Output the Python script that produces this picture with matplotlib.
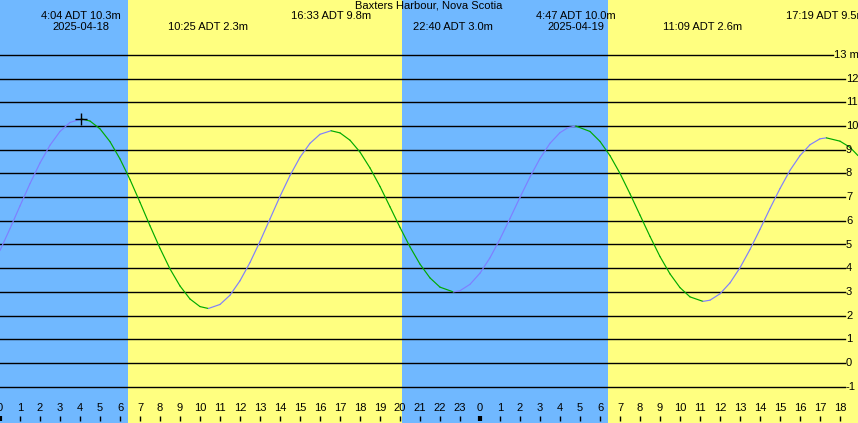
import matplotlib.pyplot as plt
from matplotlib.transforms import blended_transform_factory

# hours since 2025-04-18 00:00 ADT and tide height (m)
tide_t = [0, 0.5, 1, 1.5, 2, 2.5, 3, 3.5, 4.067, 4.5, 5, 5.5, 6, 6.5, 7, 7.5, 8, 8.5,
          9, 9.5, 10, 10.417, 11, 11.5, 12, 12.5, 13, 13.5, 14, 14.5, 15, 15.5, 16,
          16.55, 17, 17.5, 18, 18.5, 19, 19.5, 20, 20.5, 21, 21.5, 22, 22.667, 23,
          23.5, 24, 24.5, 25, 25.5, 26, 26.5, 27, 27.5, 28, 28.4, 28.783, 29.5, 30,
          30.5, 31, 31.5, 32, 32.5, 33, 33.5, 34, 34.5, 35.15, 35.5, 36, 36.5, 37,
          37.5, 38, 38.5, 39, 39.5, 40, 40.5, 41, 41.317, 42, 42.5, 42.9]
tide_h = [4.75, 5.67, 6.63, 7.57, 8.44, 9.19, 9.77, 10.15, 10.3, 10.21, 9.88, 9.34,
          8.61, 7.74, 6.78, 5.79, 4.84, 3.97, 3.25, 2.7, 2.38, 2.3, 2.47, 2.86, 3.47,
          4.24, 5.13, 6.08, 7.03, 7.91, 8.68, 9.27, 9.65, 9.8, 9.71, 9.4, 8.9, 8.23,
          7.45, 6.59, 5.72, 4.9, 4.17, 3.59, 3.2, 3.0, 3.05, 3.32, 3.79, 4.44, 5.23,
          6.1, 6.99, 7.85, 8.63, 9.27, 9.72, 9.93, 10.0, 9.77, 9.35, 8.75, 8.0, 7.14,
          6.24, 5.34, 4.49, 3.76, 3.18, 2.79, 2.6, 2.65, 2.92, 3.38, 4.02, 4.79, 5.64,
          6.52, 7.36, 8.13, 8.75, 9.21, 9.46, 9.5, 9.36, 9.1, 8.75]

# high / low events
event_t = [4.067, 10.417, 16.55, 22.667, 28.783, 35.15, 41.317]
event_label = ["4:04 ADT 10.3m", "10:25 ADT 2.3m", "16:33 ADT 9.8m", "22:40 ADT 3.0m",
               "4:47 ADT 10.0m", "11:09 ADT 2.6m", "17:19 ADT 9.5m"]
event_high = [True, False, True, False, True, False, True]
event_date = ["2025-04-18", "", "", "", "2025-04-19", "", ""]

night = [(0, 6.4), (20.1, 30.4)]
levels = list(range(-1, 14))
station = "Baxters Harbour, Nova Scotia"

W, H = 858, 423
PX_HOUR = 20.0
Y0, PX_M = 363.0, 23.7


def py(v):
    # pixel row -> metres
    return (Y0 - v) / PX_M


fig = plt.figure(figsize=(W / 100, H / 100), dpi=100)
ax = fig.add_axes([0, 0, 1, 1])
ax.set_xlim(0, W / PX_HOUR)
ax.set_ylim(py(H), py(0))
ax.axis("off")
plt.rcParams["font.family"] = ["Liberation Sans", "DejaVu Sans"]

ax.axvspan(0, W / PX_HOUR, color="#ffff80", zorder=0)
for a, b in night:
    ax.axvspan(a, b, color="#70b8ff", zorder=1, lw=0)

trans = blended_transform_factory(ax.transData, ax.transAxes)

# depth lines with labels at the right
for lv in levels:
    txt = "13 m" if lv == 13 else str(lv)
    lx = 834 if lv == 13 else 846
    ax.plot([0, (lx - 1) / PX_HOUR], [lv, lv], color="black", lw=1.0, zorder=2)
    ax.text(lx / PX_HOUR, lv, txt, fontsize=8, va="center", ha="left", zorder=5)

# tide curve, blue when rising, green when falling
for i in range(len(tide_t) - 1):
    c = "#7f7fff" if tide_h[i + 1] >= tide_h[i] else "#00aa00"
    ax.plot(tide_t[i:i + 2], tide_h[i:i + 2], color=c, lw=0.85, zorder=3,
            solid_capstyle="round")

ax.plot(event_t[0], tide_h[tide_t.index(event_t[0])], marker="+", color="black",
        ms=9, mew=1, zorder=4)

# event labels
for t, lab, hi, d in zip(event_t, event_label, event_high, event_date):
    yf = 1 - 16 / H if hi else 1 - 27 / H
    ax.text(t, yf, lab, transform=trans, fontsize=8, ha="center", va="center", zorder=5)
    if d:
        ax.text(t, 1 - 27 / H, d, transform=trans, fontsize=8, ha="center",
                va="center", zorder=5)

ax.text(0.5, 1 - 6 / H, station, transform=ax.transAxes, fontsize=8,
        ha="center", va="center", zorder=5)

# hour ticks along the bottom
for hr in range(0, 43):
    lw = 3 if hr % 24 == 0 else 1
    ax.plot([hr, hr], [py(416), py(421)], color="black", lw=lw, zorder=4,
            solid_capstyle="butt")
    ax.text(hr, 1 - 408 / H, str(hr % 24), transform=trans, fontsize=8,
            ha="center", va="center", zorder=5)

fig.savefig("out.png", dpi=100)
